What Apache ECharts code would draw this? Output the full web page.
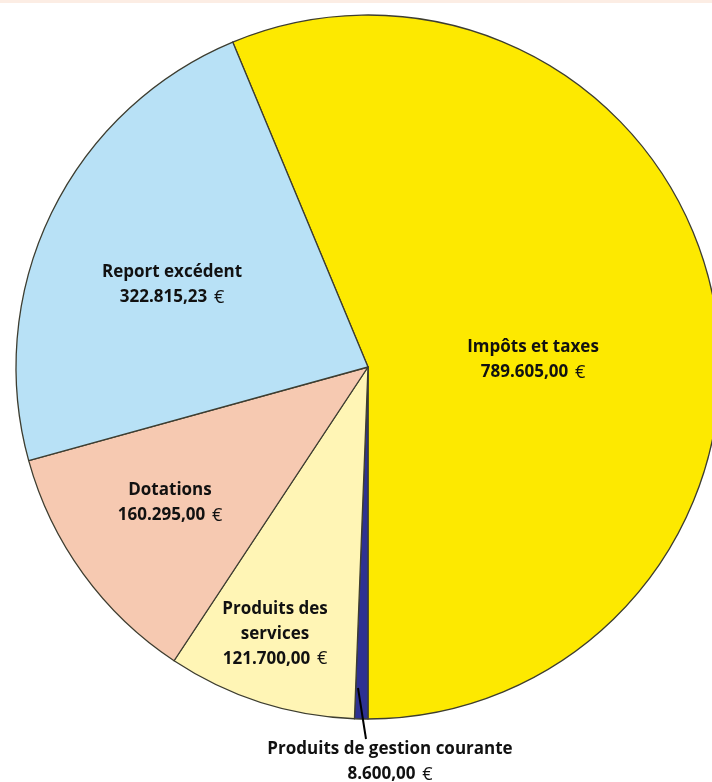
<!DOCTYPE html>
<html><head><meta charset="utf-8">
<script src="https://cdn.jsdelivr.net/npm/echarts@6/dist/echarts.min.js"></script>
<style>html,body{margin:0;padding:0;background:#fff}#c{width:712px;height:782px}</style>
</head><body><div id="c"></div>
<script>
const categories = ["Impôts et taxes", "Produits de gestion courante", "Produits des services", "Dotations", "Report excédent"];
const values = [789605.00, 8600.00, 121700.00, 160295.00, 322815.23];
const valueLabels = ["789.605,00", "8.600,00", "121.700,00", "160.295,00", "322.815,23"];
const nameLabels = ["Impôts et taxes", "Produits de gestion courante", "Produits des\nservices", "Dotations", "Report excédent"];

const colors = ["#FDE900", "#2E3192", "#FFF5B5", "#F6C9B1", "#B8E1F6"];
const labelPos = [[533, 360], [390, 762], [275, 634], [170, 503], [172, 285]];

const total = values.reduce((a, b) => a + b, 0);
const startAngle = -90 + 360 * values[0] / total;

const chart = echarts.init(document.getElementById('c'));
const font = "'Open Sans', sans-serif";
chart.setOption({
  animation: false,
  graphic: [
    {type: 'rect', shape: {x: 0, y: 0, width: 712, height: 3}, style: {fill: '#FCEDE4'}},
    {type: 'line', z: 10, shape: {x1: 358, y1: 688, x2: 366, y2: 739}, style: {stroke: '#000', lineWidth: 2}}
  ],
  series: [{
    type: 'pie',
    center: [368, 367],
    radius: 352,
    startAngle: startAngle,
    clockwise: true,
    silent: true,
    itemStyle: {borderColor: '#3d3d30', borderWidth: 1.3},
    data: categories.map((c, i) => ({
      name: c, value: values[i],
      itemStyle: {color: colors[i]}
    })),
    label: {
      show: true,
      position: 'inside',
      formatter: p => '{b|' + nameLabels[p.dataIndex].split('\n').join('}\n{b|') + '}\n{b|' + valueLabels[p.dataIndex] + '}  {e|€}',
      rich: {
        b: {fontFamily: font, fontWeight: 'bold', fontSize: 17, color: '#111', lineHeight: 25},
        e: {fontFamily: font, fontWeight: 'normal', fontSize: 18, color: '#111', lineHeight: 25}
      },
      align: 'center'
    },
    labelLine: {show: false},
    labelLayout: p => ({x: labelPos[p.dataIndex][0], y: labelPos[p.dataIndex][1], align: 'center', verticalAlign: 'middle'})
  }]
});
</script></body></html>
